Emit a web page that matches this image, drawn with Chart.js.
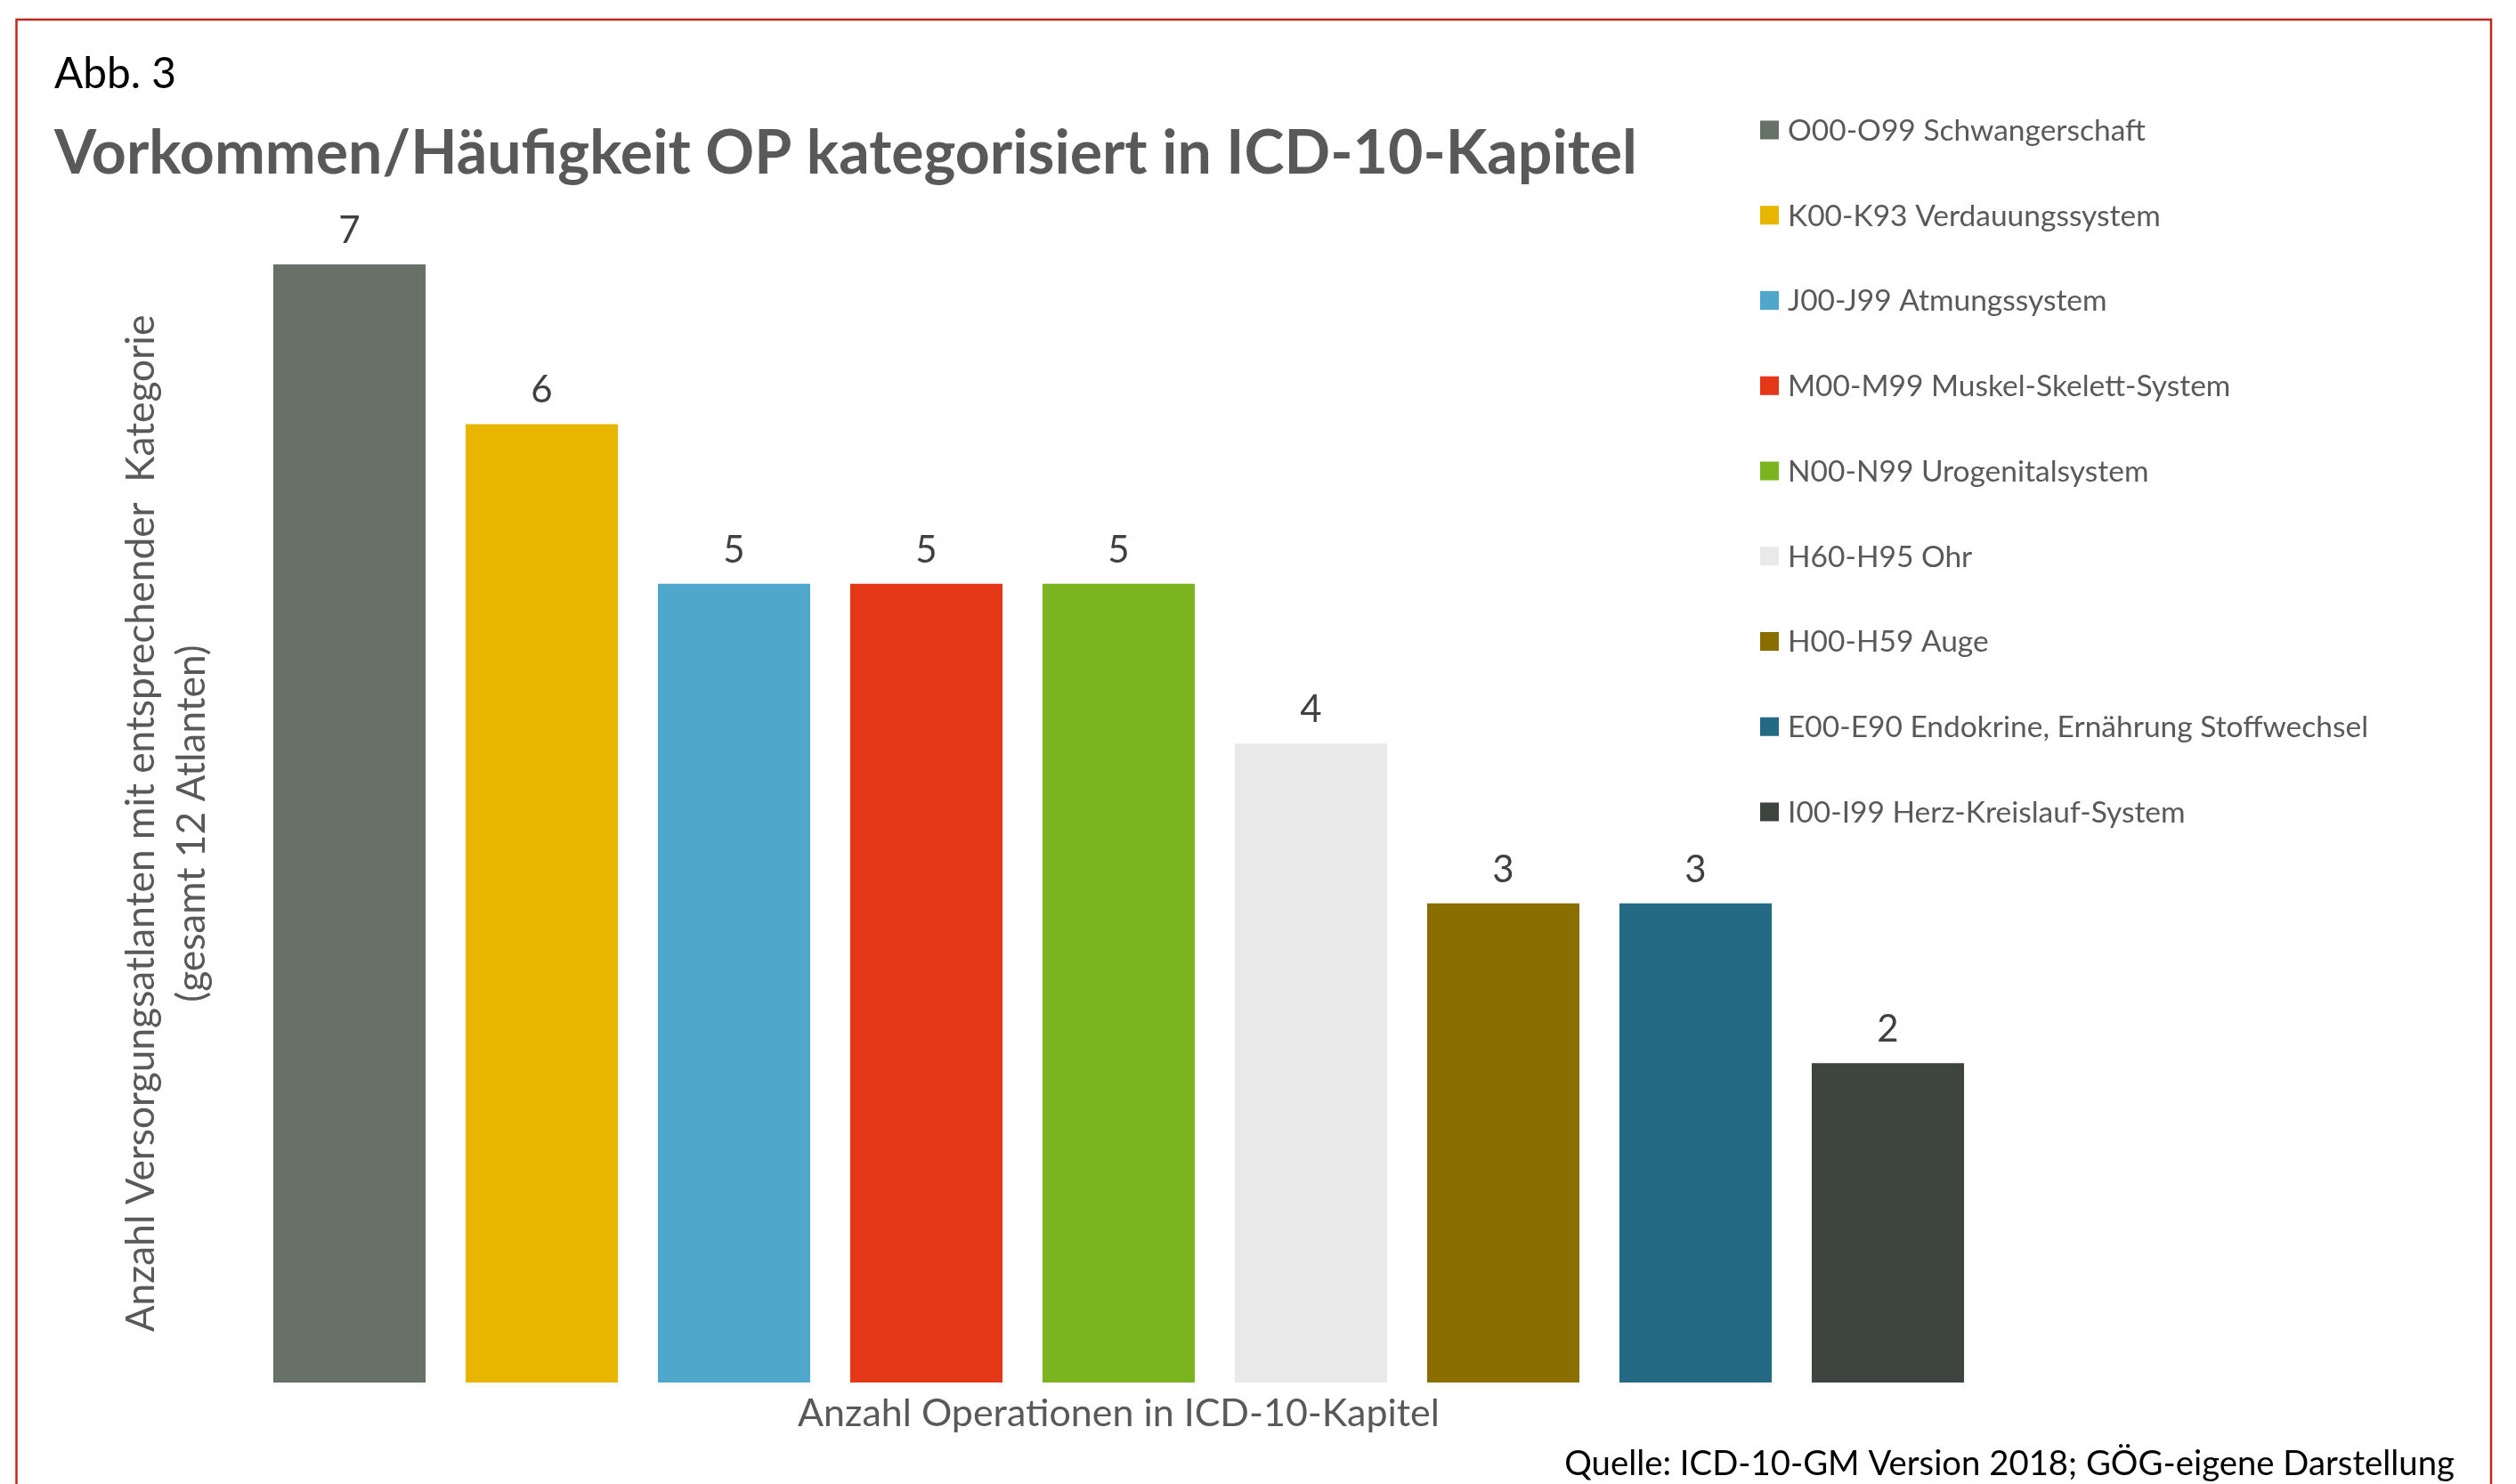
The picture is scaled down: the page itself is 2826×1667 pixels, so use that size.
<!DOCTYPE html>
<html><head><meta charset="utf-8">
<script src="https://cdn.jsdelivr.net/npm/chart.js@4"></script>
<style>html,body{margin:0;padding:0;background:#fff;overflow:hidden}canvas{display:block}</style>
</head><body>
<canvas id="c" width="2826" height="1667"></canvas>
<script>
const categories = [
  "O00-O99 Schwangerschaft",
  "K00-K93 Verdauungssystem",
  "J00-J99 Atmungssystem",
  "M00-M99 Muskel-Skelett-System",
  "N00-N99 Urogenitalsystem",
  "H60-H95 Ohr",
  "H00-H59 Auge",
  "E00-E90 Endokrine, Ernährung Stoffwechsel",
  "I00-I99 Herz-Kreislauf-System"
];
const values = [7, 6, 5, 5, 5, 4, 3, 3, 2];
const barColors = ["#687168", "#E8B500", "#4FA8CB", "#E33718", "#7AB51F", "#E9E9E9", "#8A6F00", "#256A84", "#3E4540"];
const figureLabel = "Abb. 3";
const titleText = "Vorkommen/Häufigkeit OP kategorisiert in ICD-10-Kapitel";
const xAxisTitle = "Anzahl Operationen in ICD-10-Kapitel";
const yAxisTitle = ["Anzahl Versorgungsatlanten mit entsprechender  Kategorie", "(gesamt 12 Atlanten)"];
const sourceText = "Quelle: ICD-10-GM Version 2018; GÖG-eigene Darstellung";

const W = 2826, H = 1667;
const FAMILY = "Lato, 'Open Sans', sans-serif";
const mctx = document.createElement('canvas').getContext('2d');
function fit(text, weight, target) {
  mctx.font = weight + ' 100px ' + FAMILY;
  return 100 * target / mctx.measureText(text).width;
}
const titleSize = fit(titleText, 'bold', 1778);
const abbSize = fit(figureLabel, 'normal', 137);
const legendSize = fit(categories[0], 'normal', 402);
const xTitleSize = fit(xAxisTitle, 'normal', 721);
const yTitleSize = fit(yAxisTitle[0], 'normal', 1143);
const sourceSize = fit(sourceText, 'normal', 1000);
const valueSize = legendSize * 47 / 37.5;

const deco = {
  id: 'deco',
  beforeDraw(chart) {
    const c = chart.ctx;
    c.save();
    c.fillStyle = '#ffffff';
    c.fillRect(0, 0, W, H);
    c.strokeStyle = '#C0281C';
    c.lineWidth = 2.5;
    c.beginPath();
    c.moveTo(18.5, H + 10);
    c.lineTo(18.5, 22);
    c.lineTo(2798, 22);
    c.lineTo(2798, H + 10);
    c.stroke();
    c.restore();
  },
  afterDatasetsDraw(chart) {
    const c = chart.ctx;
    const meta = chart.getDatasetMeta(0);
    c.save();
    c.font = 'normal ' + valueSize + 'px ' + FAMILY;
    c.fillStyle = '#404040';
    c.textAlign = 'center';
    c.textBaseline = 'alphabetic';
    meta.data.forEach((bar, i) => {
      c.fillText(String(values[i]), bar.x, bar.y - 24);
    });
    c.restore();
  },
  afterDraw(chart) {
    const c = chart.ctx;
    c.save();
    c.textBaseline = 'alphabetic';
    c.textAlign = 'left';
    c.fillStyle = '#000000';
    c.font = 'normal ' + abbSize + 'px ' + FAMILY;
    c.fillText(figureLabel, 61, 99);
    c.fillStyle = '#595959';
    c.font = 'bold ' + titleSize + 'px ' + FAMILY;
    c.fillText(titleText, 61, 195);
    // legend
    c.font = 'normal ' + legendSize + 'px ' + FAMILY;
    c.textBaseline = 'middle';
    categories.forEach((lab, i) => {
      const cy = 146 + i * 95.75;
      c.fillStyle = barColors[i];
      c.fillRect(1977, cy - 10.5, 21, 21);
      c.fillStyle = '#595959';
      c.fillText(lab, 2008, cy + 1);
    });
    // source
    c.textBaseline = 'alphabetic';
    c.textAlign = 'right';
    c.fillStyle = '#000000';
    c.font = 'normal ' + sourceSize + 'px ' + FAMILY;
    c.fillText(sourceText, 2757, 1657);
    c.restore();
  }
};

new Chart(document.getElementById('c'), {
  type: 'bar',
  data: {
    labels: categories,
    datasets: [{
      data: values,
      backgroundColor: barColors,
      borderWidth: 0,
      barPercentage: 0.792,
      categoryPercentage: 1.0
    }]
  },
  options: {
    responsive: false,
    animation: false,
    devicePixelRatio: 1,
    layout: { padding: { left: 130.5, right: 597.5, top: 297, bottom: 54 } },
    plugins: { legend: { display: false }, tooltip: { enabled: false }, title: { display: false } },
    scales: {
      x: {
        ticks: { display: false },
        grid: { display: false, drawTicks: false },
        border: { display: false },
        title: {
          display: true, text: xAxisTitle, color: '#595959',
          font: { family: FAMILY, size: xTitleSize, lineHeight: '50px' },
          padding: { top: 10, bottom: 0 }
        }
      },
      y: {
        min: 0, max: 7,
        ticks: { display: false },
        grid: { display: false, drawTicks: false },
        border: { display: false },
        title: {
          display: true, text: yAxisTitle, color: '#595959',
          font: { family: FAMILY, size: yTitleSize, lineHeight: '57px' },
          padding: { top: 0, bottom: 40 }
        }
      }
    }
  },
  plugins: [deco]
});
</script>
</body></html>
